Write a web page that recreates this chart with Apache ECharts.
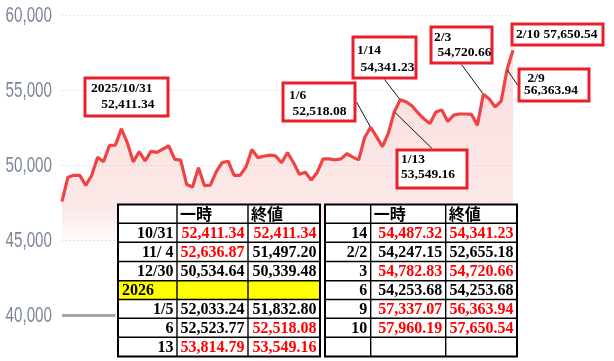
<!DOCTYPE html>
<html>
<head>
<meta charset="utf-8">
<script src="https://cdn.jsdelivr.net/npm/echarts@6/dist/echarts.min.js"></script>
<style>html,body{margin:0;padding:0;background:#fff;}#c{width:614px;height:361px;}</style>
</head>
<body>
<div id="c"></div>
<script>
// ---- data ----
const dates = ['10/17','10/20','10/21','10/22','10/23','10/24','10/27','10/28','10/29','10/30','10/31',
'11/4','11/5','11/6','11/7','11/10','11/11','11/12','11/13','11/14','11/17','11/18','11/19','11/20','11/21','11/25','11/26','11/27','11/28',
'12/1','12/2','12/3','12/4','12/5','12/8','12/9','12/10','12/11','12/12','12/15','12/16','12/17','12/18','12/19','12/22','12/23','12/24','12/25','12/26','12/29','12/30',
'1/5','1/6','1/7','1/8','1/9','1/13','1/14','1/15','1/16','1/19','1/20','1/21','1/22','1/23','1/26','1/27','1/28','1/29','1/30',
'2/2','2/3','2/4','2/5','2/6','2/9','2/10'];
const closes = [47582.15,49185.50,49316.06,49307.79,48641.61,49299.65,50512.32,50219.18,51307.65,51325.61,52411.34,
51497.20,50212.27,50883.68,50276.37,50911.76,50842.93,51063.31,51281.83,50376.53,50323.91,48702.98,48537.70,49823.94,48625.88,48659.52,49559.07,50167.10,50253.91,
49303.28,49303.45,49864.68,51028.42,50491.87,50581.94,50655.10,50602.80,50148.82,50836.55,50168.11,49383.29,49512.28,49001.50,49507.21,50402.39,50412.87,50344.10,50407.79,50750.39,50526.92,50339.48,
51832.80,52518.08,51890,51220,52130,53549.16,54341.23,54220,53930,53470,53070,52770,53530,53670,52900,53330,53400,53400,53380,
52655.18,54720.66,54400,53870,54253.68,56363.94,57650.54];
const yTicks = [40000, 45000, 50000, 55000, 60000];

const annotDates  = ['10/31','1/6','1/14','1/13','2/3','2/10','2/9'];
const annotTitles = ['2025/10/31','1/6','1/14','1/13','2/3','2/10','2/9'];

const tableHeader = ['', '一時', '終値'];
const tableLeft = [['10/31','52,411.34','52,411.34'],['11/ 4','52,636.87','51,497.20'],['12/30','50,534.64','50,339.48'],
  ['2026','',''],['1/5','52,033.24','51,832.80'],['6','52,523.77','52,518.08'],['13','53,814.79','53,549.16']];
const tableLeftRed = [[1,1],[1,0],[0,0],[0,0],[0,0],[0,1],[1,1]];
const tableRight = [['14','54,487.32','54,341.23'],['2/2','54,247.15','52,655.18'],['3','54,782.83','54,720.66'],
  ['6','54,253.68','54,253.68'],['9','57,337.07','56,363.94'],['10','57,960.19','57,650.54'],['','','']];
const tableRightRed = [[1,1],[0,0],[1,1],[0,0],[1,1],[1,1],[0,0]];

// ---- layout / style ----
const fmt2 = v => v.toLocaleString('en-US',{minimumFractionDigits:2,maximumFractionDigits:2});
const annotLayout = {
  '10/31': {x:86.5, y:79.5, w:80, h:35, pad:[1,0,0,4.5], lh:16, indent:['','   '], line:false},
  '1/6':   {x:284.5,y:84.5, w:69, h:35, pad:[3,0,0,4.5], lh:16, indent:['',' '], line:true},
  '1/14':  {x:354.5,y:38.5, w:60, h:38, pad:[4,0,0,2.5], lh:17, indent:['',' '], line:true},
  '1/13':  {x:398.5,y:151.5,w:67, h:35, pad:[1,0,0,2.5], lh:15, indent:['',''], line:true},
  '2/3':   {x:432.5,y:28.5, w:58, h:33, pad:[2,0,0,1.5], lh:15, indent:['',' '], line:true},
  '2/10':  {x:513.5,y:25.5, w:88, h:18, pad:[1,0,0,2.5], lh:16, single:true, line:false},
  '2/9':   {x:520.5,y:70.5, w:67, h:29, pad:[2,0,0,3.5], lh:12, indent:[' ',''], line:true}
};

const items = closes.map((v, i) => {
  const d = dates[i];
  const k = annotDates.indexOf(d);
  if (k < 0) return {value: v};
  const L = annotLayout[d];
  const text = L.single ? (annotTitles[k] + ' ' + fmt2(v))
    : (L.indent[0] + annotTitles[k] + '\n' + L.indent[1] + fmt2(v));
  return {
    value: v,
    label: {
      show: true, formatter: text, color: '#000', fontFamily: 'Liberation Serif', fontWeight: 'bold',
      fontSize: 13.5, lineHeight: L.lh, backgroundColor: '#fff', borderColor: '#e8202a', borderWidth: 3,
      padding: L.pad, width: L.w - L.pad[3], height: L.h - L.pad[0], align: 'left', verticalAlign: 'top'
    },
    labelLine: {show: L.line, lineStyle: {color: '#111', width: 1}}
  };
});

function buildTable(colX, rowY, rows, reds, yellowRow) {
  const els = [];
  const x0 = colX[0], x1 = colX[colX.length-1], y0 = rowY[0], y1 = rowY[rowY.length-1];
  els.push({type:'rect', shape:{x:x0, y:y0, width:x1-x0, height:y1-y0}, style:{fill:'#fff', stroke:null}, z:100});
  if (yellowRow != null) {
    const r = yellowRow + 1;
    els.push({type:'rect', shape:{x:x0, y:rowY[r], width:x1-x0, height:rowY[r+1]-rowY[r]}, style:{fill:'#ffff00'}, z:101});
  }
  for (let i = 1; i < colX.length-1; i++)
    els.push({type:'line', shape:{x1:colX[i], y1:y0, x2:colX[i], y2:y1}, style:{stroke:'#000', lineWidth:1.4}, z:102});
  for (let j = 1; j < rowY.length-1; j++)
    els.push({type:'line', shape:{x1:x0, y1:rowY[j], x2:x1, y2:rowY[j]}, style:{stroke:'#000', lineWidth:1.4}, z:102});
  els.push({type:'rect', shape:{x:x0, y:y0, width:x1-x0, height:y1-y0}, style:{fill:null, stroke:'#000', lineWidth:2}, z:103});
  for (let c = 1; c < 3; c++) {
    els.push({type:'text', z:104, style:{text:tableHeader[c], x:colX[c]+3, y:(rowY[0]+rowY[1])/2+0.5,
      align:'left', verticalAlign:'middle', fill:'#000', font:'bold 16px "Noto Sans CJK JP"'}});
  }
  rows.forEach((row, r) => {
    const yc = (rowY[r+1] + rowY[r+2]) / 2 + 1;
    if (r === yellowRow) {
      els.push({type:'text', z:104, style:{text:row[0], x:colX[0]+4, y:yc, align:'left', verticalAlign:'middle',
        fill:'#000', font:'bold 16px "Liberation Serif"'}});
      return;
    }
    row.forEach((cell, c) => {
      if (!cell) return;
      const red = c > 0 && reds[r][c-1];
      els.push({type:'text', z:104, style:{text:cell, x:colX[c+1]-3.5, y:yc, align:'right', verticalAlign:'middle',
        fill: red ? '#ff0000' : '#000', font:'bold 16px "Liberation Serif"'}});
    });
  });
  return els;
}
const rowY = [204.5, 223.3, 242.3, 261.5, 280.7, 299.5, 318.3, 337.3, 356.5];
const tableGraphics = [
  ...buildTable([118, 177, 248, 320], rowY, tableLeft, tableLeftRed, 3),
  ...buildTable([325, 370.7, 445.7, 517], rowY, tableRight, tableRightRed, null)
];

const chart = echarts.init(document.getElementById('c'), null, {renderer:'canvas'});
chart.setOption({
  animation: false,
  grid: {left: 62, right: 101, top: 15, bottom: 46, outerBoundsMode: 'none', containLabel: false},
  xAxis: {type:'category', data:dates, boundaryGap:false, axisLine:{show:false}, axisTick:{show:false},
    axisLabel:{show:false}, splitLine:{show:false}},
  yAxis: {type:'value', min:yTicks[0], max:yTicks[yTicks.length-1], interval:yTicks[1]-yTicks[0],
    axisLine:{show:false}, axisTick:{show:false}, axisLabel:{show:false},
    splitLine:{lineStyle:{type:[1,3], color:'#c9d1dd', width:1}}},
  series: [{
    type: 'line', data: items, symbol: 'circle', symbolSize: 1, showSymbol: true, showAllSymbol: true,
    lineStyle: {color:'#f04444', width:3.2}, itemStyle: {color:'#f04444'},
    areaStyle: {color: new echarts.graphic.LinearGradient(0,0,0,1,[
      {offset:0, color:'rgba(235,90,90,0.28)'},
      {offset:0.6, color:'rgba(235,90,90,0.2)'},
      {offset:0.74, color:'rgba(235,90,90,0)'}])},
    labelLayout: function (p) {
      const L = annotLayout[dates[p.dataIndex]];
      if (!L) return {};
      return {x: L.x, y: L.y, align: 'left', verticalAlign: 'top'};
    },
    markLine: {symbol:'none', silent:true, label:{show:false}, lineStyle:{color:'#a6a6a6', width:3, type:'solid'},
      data: [[{coord:[dates[0], yTicks[0]]}, {coord:[dates[9], yTicks[0]]}]]}
  }],
  graphic: tableGraphics
});

// y-axis tick labels: condensed text placed through the axis scale
const yLabelEls = yTicks.map(v => ({
  type: 'text', x: 52, y: chart.convertToPixel({yAxisIndex: 0}, v) + 1, scaleX: 0.69, z: 50,
  style: {text: v.toLocaleString('en-US'), x: 0, y: 0, align: 'right', verticalAlign: 'middle',
    fill: '#7b8798', font: '22px "Liberation Sans"'}
}));
chart.setOption({graphic: tableGraphics.concat(yLabelEls)});
</script>
</body>
</html>
